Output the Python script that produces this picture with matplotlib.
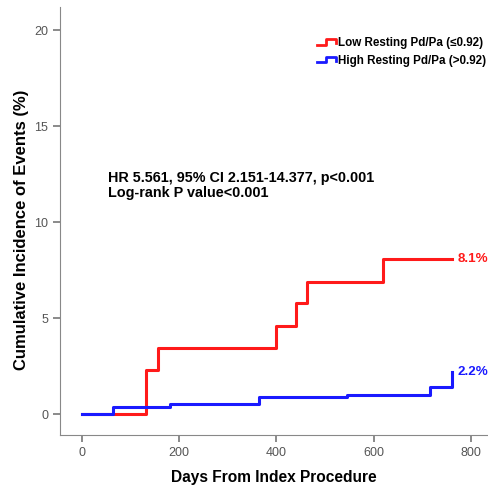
import matplotlib.pyplot as plt
from matplotlib.lines import Line2D
from matplotlib.legend_handler import HandlerBase

plt.rcParams['font.family'] = ['Liberation Sans', 'DejaVu Sans']

# step times (days) and cumulative incidence (%)
low_days = [0, 131, 156, 400, 440, 462, 619, 761]
low_inc = [0, 2.3, 3.45, 4.6, 5.8, 6.9, 8.1, 8.1]
high_days = [0, 64, 181, 364, 545, 716, 761, 761]
high_inc = [0, 0.38, 0.5, 0.9, 1.0, 1.4, 2.2, 2.2]

xticks = [0, 200, 400, 600, 800]
yticks = [0, 5, 10, 15, 20]


class StepHandler(HandlerBase):
    # little step-shaped legend icon
    def create_artists(self, legend, orig, xd, yd, w, h, fontsize, trans):
        xs = [xd, xd + w * 0.45, xd + w * 0.45, xd + w, xd + w]
        ys = [yd + h * 0.15, yd + h * 0.15, yd + h * 0.85, yd + h * 0.85, yd + h * 0.35]
        ln = Line2D(xs, ys, color=orig.get_color(), lw=2, transform=trans)
        return [ln]


fig = plt.figure(figsize=(4.88, 4.88), dpi=100)
ax = fig.add_axes([60 / 488, 53 / 488, 428 / 488, 428 / 488])

l1, = ax.step(low_days, low_inc, where='post', color='#ff1a1a', lw=2.2)
l2, = ax.step(high_days, high_inc, where='post', color='#1a1aff', lw=2.2)

ax.set_xlim(-45, 835)
ax.set_ylim(-1.09, 21.2)
ax.set_xticks(xticks)
ax.set_yticks(yticks)
for s in ['top', 'right']:
    ax.spines[s].set_visible(False)
for s in ['left', 'bottom']:
    ax.spines[s].set_color('#888888')
ax.tick_params(colors='#777777', labelcolor='#555555', labelsize=9, length=5, width=1.2)

ax.set_xlabel('Days From Index Procedure', fontsize=11.2, fontweight='bold', labelpad=8)
ax.set_ylabel('Cumulative Incidence of Events (%)', fontsize=12, fontweight='bold')
ax.yaxis.set_label_coords(-0.072, 0.479)

ax.text(53, 12.3, 'HR 5.561, 95% CI 2.151-14.377, p<0.001', fontsize=10.4, fontweight='bold',
        va='center')
ax.text(53, 11.5, 'Log-rank P value<0.001', fontsize=10.4, fontweight='bold', va='center')

ax.text(772, low_inc[-1], '8.1%', color='#ff1a1a', fontsize=9.6, fontweight='bold',
        va='center', clip_on=False)
ax.text(772, high_inc[-1], '2.2%', color='#1a1aff', fontsize=9.6, fontweight='bold',
        va='center', clip_on=False)

ax.legend([l1, l2], ['Low Resting Pd/Pa (\u22640.92)', 'High Resting Pd/Pa (>0.92)'],
          handler_map={Line2D: StepHandler()}, loc='upper left',
          bbox_to_anchor=(0.577, 0.955), frameon=False, handlelength=1.6,
          handletextpad=0.2, labelspacing=0.5,
          prop={'size': 8.4, 'weight': 'bold'})

fig.savefig('out.png', dpi=100)
